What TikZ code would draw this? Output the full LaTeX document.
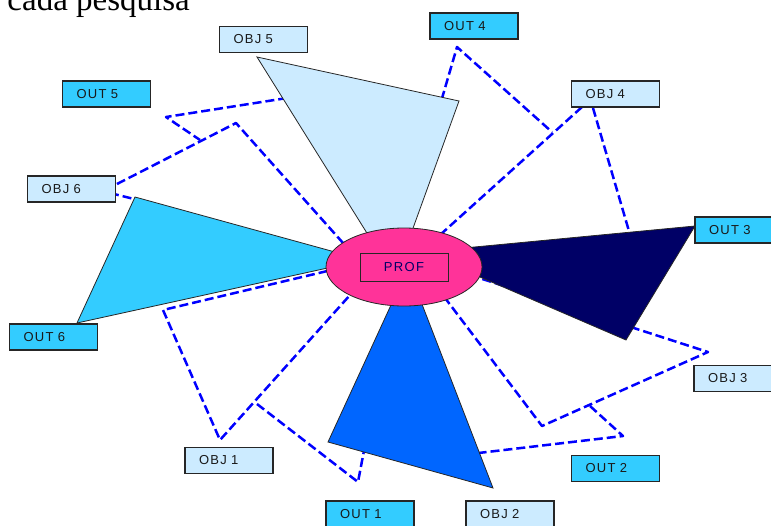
\documentclass[tikz,border=0pt]{standalone}
\usepackage{fontspec}
\setmainfont{Liberation Sans}
\newfontfamily\capfont{Liberation Serif}
\newfontfamily\boxfont[LetterSpace=10]{Liberation Sans}
\usetikzlibrary{shapes.geometric}
\definecolor{objfill}{HTML}{CCEBFF}
\definecolor{outfill}{HTML}{33CCFF}
\definecolor{navyfill}{HTML}{000066}
\definecolor{bluefill}{HTML}{0066FF}
\definecolor{proffill}{HTML}{FF3399}
\definecolor{dashblue}{HTML}{0000FF}
\tikzset{
  lblbox/.style={draw=black!85, line width=1.5pt, minimum width=88pt, minimum height=26pt,
    inner xsep=14pt, inner ysep=0pt, text width=60pt, align=left,
    font=\boxfont\fontsize{13}{13}\selectfont, text=black!90},
  objbox/.style={lblbox, fill=objfill},
  outbox/.style={lblbox, fill=outfill},
  dashline/.style={dashblue, line width=2.5pt, dash pattern=on 9pt off 4pt, line join=round},
  wedge/.style={draw=black!85, line width=0.8pt}
}
\begin{document}
\begin{tikzpicture}[x=1pt,y=-1pt]
    \useasboundingbox (0,0) rectangle (771,525);
    \node[anchor=base east, inner sep=0pt, font=\capfont\fontsize{33}{33}\selectfont] (titulo) at (190,10) {por cada pesquisa};
    \draw[dashline] (438,112) -- (457,47) -- (552,132);
    \draw[dashline] (582,107) -- (410,262);
    \draw[dashline] (593,108) -- (631,238);
    \draw[dashline] (300,96) -- (166,117) -- (200,140);
    \draw[dashline] (117,184) -- (236,123) -- (360,262);
    \draw[dashline] (110,193) -- (150,203);
    \draw[dashline] (340,268) -- (163,310) -- (220,440) -- (368,275);
    \draw[dashline] (257,404) -- (358,482) -- (366,440);
    \draw[dashline] (470,275) -- (708,352) -- (542,426) -- (439,290);
    \draw[dashline] (590,406) -- (623,436) -- (470,454);
    \draw[wedge, fill=objfill] (395,278) -- (257,57) -- (459,101) -- cycle;
    \draw[wedge, fill=outfill] (364,260) -- (135,197) -- (77,323) -- cycle;
    \draw[wedge, fill=navyfill] (422,252) -- (695,226) -- (626,340) -- cycle;
    \draw[wedge, fill=bluefill] (408,268) -- (328,442) -- (493,488) -- cycle;
    \node[ellipse, draw=black!85, line width=0.8pt, fill=proffill, minimum width=156pt, minimum height=78pt, inner sep=0pt] (prof) at (404,267) {};
    \node[draw=black!85, line width=1pt, minimum width=88pt, minimum height=28pt, inner sep=0pt, font=\boxfont\fontsize{13}{13}\selectfont, text=navyfill] (proflbl) at (prof.center) {PROF};
    \node[objbox] (obj5) at (263.5,39.5) {OBJ 5};
    \node[outbox] (out4) at (474,26) {OUT 4};
    \node[objbox] (obj4) at (615.5,94) {OBJ 4};
    \node[outbox] (out3) at (739,230) {OUT 3};
    \node[objbox] (obj3) at (738,378.5) {OBJ 3};
    \node[outbox] (out2) at (615.5,468.5) {OUT 2};
    \node[objbox] (obj2) at (510,514) {OBJ 2};
    \node[outbox] (out1) at (370,514) {OUT 1};
    \node[objbox] (obj1) at (229,460.5) {OBJ 1};
    \node[outbox] (out6) at (53.5,337) {OUT 6};
    \node[objbox] (obj6) at (71.5,189) {OBJ 6};
    \node[outbox] (out5) at (106.5,94) {OUT 5};
\end{tikzpicture}
\end{document}
